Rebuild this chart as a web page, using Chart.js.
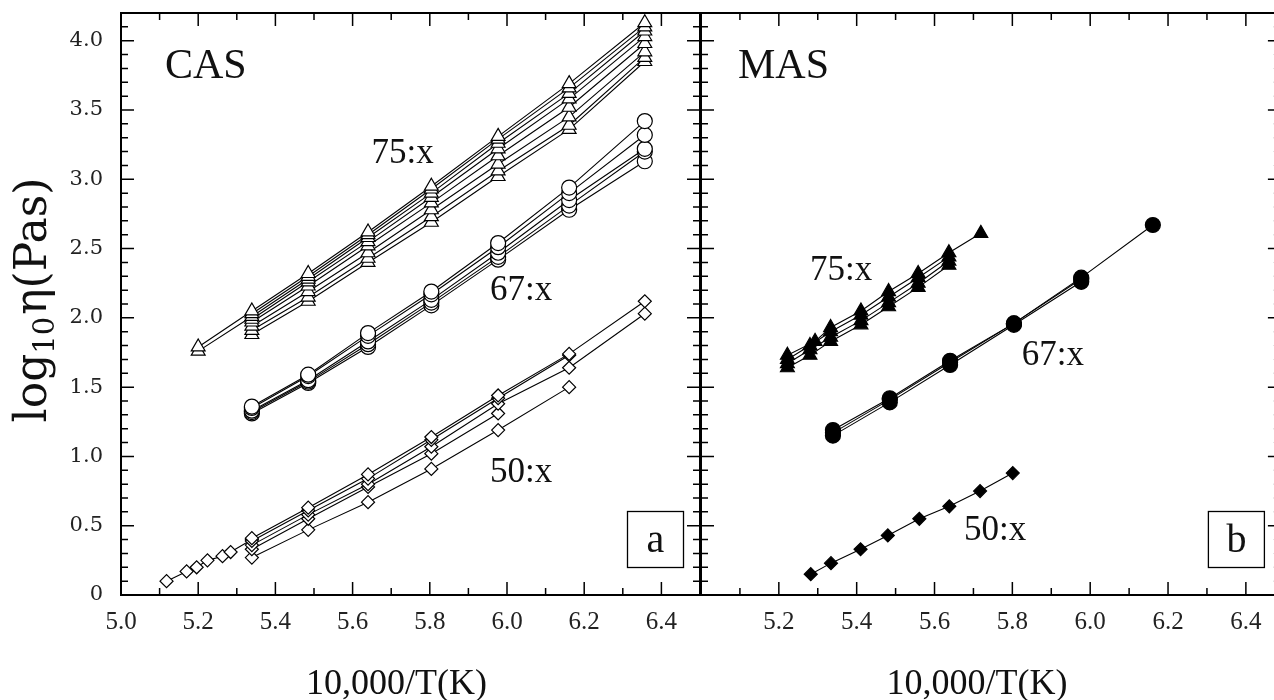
<!DOCTYPE html>
<html><head><meta charset="utf-8">
<script src="https://cdn.jsdelivr.net/npm/chart.js@4.4.1/dist/chart.umd.min.js"></script>
<style>
html,body{margin:0;padding:0;background:#fff;width:1274px;height:700px;overflow:hidden;position:relative}
canvas{position:absolute;top:0}
#c1{left:0}
#c2{left:600px}
</style></head><body>
<canvas id="c1" width="702" height="700"></canvas>
<canvas id="c2" width="700" height="700"></canvas>
<script>
// ---------- data (x = 10,000/T(K), y = log10 eta) ----------
const casX = [5.200, 5.339, 5.485, 5.640, 5.804, 5.977, 6.161, 6.357];
const cas75_1 = [1.79, 2.05, 2.32, 2.62, 2.95, 3.31, 3.69, 4.13];
const cas75_2 = [null, 2.03, 2.30, 2.60, 2.93, 3.29, 3.66, 4.10];
const cas75_3 = [1.76, 2.01, 2.28, 2.58, 2.90, 3.26, 3.62, 4.07];
const cas75_4 = [null, 1.99, 2.26, 2.55, 2.87, 3.22, 3.58, 4.03];
const cas75_5 = [null, 1.97, 2.23, 2.52, 2.83, 3.17, 3.52, 3.98];
const cas75_6 = [null, 1.94, 2.19, 2.47, 2.78, 3.11, 3.45, 3.92];
const cas75_7 = [null, 1.91, 2.15, 2.43, 2.73, 3.06, 3.39, 3.88];
const cas75_8 = [null, 1.88, 2.12, 2.40, 2.69, 3.02, 3.36, 3.85];

const cas67_1 = [null, 1.36, 1.59, 1.89, 2.19, 2.54, 2.94, 3.42];
const cas67_2 = [null, 1.35, 1.58, 1.87, 2.17, 2.51, 2.90, 3.32];
const cas67_3 = [null, 1.33, 1.55, 1.83, 2.13, 2.47, 2.85, 3.22];
const cas67_4 = [null, 1.32, 1.54, 1.81, 2.11, 2.44, 2.81, 3.20];
const cas67_5 = [null, 1.31, 1.53, 1.79, 2.09, 2.42, 2.78, 3.13];

const cas50_1 = [null, 0.41, 0.63, 0.87, 1.14, 1.44, 1.74, 2.12];
const cas50_2 = [null, 0.39, 0.61, 0.84, 1.12, 1.42, 1.73, null];
const cas50_3 = [null, 0.36, 0.58, 0.80, 1.07, 1.38, 1.64, 2.03];
const cas50_4 = [null, 0.33, 0.55, 0.78, 1.02, 1.31, null, null];
const cas50_5 = [null, 0.27, 0.47, 0.67, 0.91, 1.19, 1.50, null];
const cas50lowX = [5.118, 5.170, 5.196, 5.224, 5.263, 5.284, 5.339];
const cas50low  = [0.10, 0.17, 0.20, 0.25, 0.28, 0.31, 0.40];

const mas75X_a = [5.222, 5.293, 5.333, 5.411, 5.482, 5.558, 5.637, 5.719];
const mas75_1  = [1.73, 1.83, 1.93, 2.05, 2.19, 2.32, 2.47, 2.61];
const mas75X_b = [5.222, 5.280, 5.333, 5.411, 5.482, 5.558, 5.637];
const mas75_2  = [1.70, 1.80, 1.90, 2.02, 2.15, 2.29, 2.44];
const mas75_3  = [1.67, 1.77, 1.86, 1.98, 2.11, 2.25, 2.41];
const mas75_4  = [1.64, 1.73, 1.83, 1.95, 2.08, 2.22, 2.38];

const mas67X  = [5.339, 5.485, 5.640, 5.804, 5.977, 6.161];
const mas67_1 = [1.19, 1.42, 1.69, 1.96, 2.29, 2.67];
const mas67_2 = [1.17, 1.41, 1.68, 1.96, 2.28, null];
const mas67_3 = [1.15, 1.39, 1.66, 1.95, 2.26, null];

const mas50X  = [5.282, 5.334, 5.410, 5.480, 5.561, 5.638, 5.717, 5.801];
const mas50_1 = [0.15, 0.23, 0.33, 0.43, 0.55, 0.64, 0.75, 0.88];

const xTitle = '10,000/T(K)';
const yTitleParts = ['log', '10', '\u03B7(Pas)'];   // log10 eta (Pas), "10" as subscript

// ---------- helpers ----------
function series(xs, ys, style, filled, r){
  const data = xs.map((x,i)=>({x:x, y:ys[i]})).filter(p=>p.y!==null && p.y!==undefined);
  return {
    data: data, showLine: true, borderColor:'#000', borderWidth:1.1,
    pointStyle: style, pointRadius: r, pointHoverRadius: r,
    pointBackgroundColor: filled ? '#000' : '#fff',
    pointBorderColor:'#000', pointBorderWidth:1.2, tension:0
  };
}
const SERIF = "'Liberation Serif','Times New Roman',serif";
const SERIF2 = "'DejaVu Serif',serif";

function frameTicks(){
  return {
    id:'frameTicks',
    afterDatasetsDraw(chart){
      const ctx = chart.ctx, a = chart.chartArea, sx = chart.scales.x, sy = chart.scales.y;
      ctx.save();
      ctx.strokeStyle = '#000'; ctx.lineWidth = 1.5;
      ctx.beginPath();
      sx.ticks.forEach(t=>{
        const p = sx.getPixelForValue(t.value);
        if (p < a.left + 2 || p > a.right - 2) return;
        const L = (Math.round(t.value*10) % 2 === 0) ? 13 : 7;
        ctx.moveTo(p, a.bottom); ctx.lineTo(p, a.bottom - L);
        ctx.moveTo(p, a.top); ctx.lineTo(p, a.top + L);
      });
      sy.ticks.forEach(t=>{
        const p = sy.getPixelForValue(t.value);
        if (p < a.top + 2 || p > a.bottom - 2) return;
        const L = (Math.round(t.value*10) % 5 === 0) ? 13 : 7;
        ctx.moveTo(a.left, p); ctx.lineTo(a.left + L, p);
        ctx.moveTo(a.right, p); ctx.lineTo(a.right - L, p);
      });
      ctx.stroke();
      ctx.lineWidth = 2;
      ctx.strokeRect(a.left, a.top, a.right - a.left, a.bottom - a.top);
      ctx.restore();
    }
  };
}
function drawYTitle(ctx, cx, cy){
  const big = '44px ' + SERIF2, small = '29px ' + SERIF2;
  ctx.save();
  ctx.font = big;   const w1 = ctx.measureText(yTitleParts[0]).width;
  const w3 = ctx.measureText(yTitleParts[2]).width;
  ctx.font = small; const w2 = ctx.measureText(yTitleParts[1]).width;
  const total = w1 + w2 + 2 + w3;
  ctx.translate(cx, cy);
  ctx.rotate(-Math.PI/2);
  ctx.textAlign = 'left'; ctx.textBaseline = 'alphabetic';
  let x = -total/2;
  const base = 15;
  ctx.font = big;   ctx.fillText(yTitleParts[0], x, base); x += w1;
  ctx.font = small; ctx.fillText(yTitleParts[1], x, base + 8); x += w2 + 2;
  ctx.font = big;   ctx.fillText(yTitleParts[2], x, base);
  ctx.restore();
}
function labelsPlugin(texts, boxText, showYTitle){
  return {
    id:'panelLabels',
    afterDraw(chart){
      const ctx = chart.ctx, a = chart.chartArea, sx = chart.scales.x, sy = chart.scales.y;
      ctx.save();
      ctx.fillStyle = '#111'; ctx.textAlign = 'left'; ctx.textBaseline = 'alphabetic';
      texts.forEach(t=>{
        ctx.font = t.size + 'px ' + SERIF;
        ctx.fillText(t.text, sx.getPixelForValue(t.x), sy.getPixelForValue(t.y));
      });
      // panel letter box
      const bw = 56, bx = a.right - 16.5 - bw, by = a.bottom - 27.5 - bw;
      ctx.fillStyle = '#fff'; ctx.fillRect(bx, by, bw, bw);
      ctx.strokeStyle = '#000'; ctx.lineWidth = 1.3; ctx.strokeRect(bx, by, bw, bw);
      ctx.fillStyle = '#111'; ctx.font = '40px ' + SERIF; ctx.textAlign = 'center';
      ctx.fillText(boxText, bx + bw/2, by + bw/2 + 12);
      // x axis title
      ctx.font = '36px ' + SERIF; ctx.textAlign = 'center'; ctx.textBaseline = 'alphabetic';
      ctx.fillText(xTitle, (a.left + a.right)/2 - 14, 694);
      // y axis title
      if (showYTitle) drawYTitle(ctx, 31, 300);
      ctx.restore();
    }
  };
}
function xLabel(v){ const k = Math.round(v*10); return (k % 2 === 0) ? (k/10).toFixed(1) : ''; }
function yLabel(v){ const k = Math.round(v*10); if (k % 5) return ''; return k === 0 ? '0' : (k/10).toFixed(1); }

function makeOptions(xmax, showY, hideFirstX, padRight, yWidth){
  return {
    responsive:false, animation:false, events:[],
    layout:{ autoPadding:false, padding:{ left:0, right:padRight, top:13, bottom:0 } },
    plugins:{ legend:{display:false}, tooltip:{enabled:false} },
    scales:{
      x:{ type:'linear', min:5.0, max:xmax,
          grid:{display:false, drawTicks:false}, border:{display:false},
          ticks:{ stepSize:0.1, autoSkip:false, maxRotation:0, includeBounds:false, padding:12,
                  color:'#222', font:{family:SERIF, size:25},
                  callback:(v)=> (hideFirstX && v < 5.05) ? '' : xLabel(v) },
          title:{ display:false },
          afterFit:(s)=>{ s.height = 105; s.paddingLeft = 0; s.paddingRight = 0; } },
      y:{ type:'linear', min:0, max:4.2,
          grid:{display:false, drawTicks:false}, border:{display:false},
          ticks:{ display:showY, stepSize:0.1, autoSkip:false, includeBounds:false, padding:18,
                  color:'#222', font:{family:SERIF2, size:21}, callback:(v)=>yLabel(v) },
          title:{ display:false },
          afterFit:(s)=>{ s.width = yWidth; s.paddingTop = 0; s.paddingBottom = 0; } }
    }
  };
}

// ---------- CAS panel ----------
const casSets = [];
[cas75_1,cas75_2,cas75_3,cas75_4,cas75_5,cas75_6,cas75_7,cas75_8].forEach(s=>casSets.push(series(casX, s, 'triangle', false, 8)));
[cas67_1,cas67_2,cas67_3,cas67_4,cas67_5].forEach(s=>casSets.push(series(casX, s, 'circle', false, 7.5)));
[cas50_1,cas50_2,cas50_3,cas50_4,cas50_5].forEach(s=>casSets.push(series(casX, s, 'rectRot', false, 6.5)));
casSets.push(series(cas50lowX, cas50low, 'rectRot', false, 6.5));

new Chart(document.getElementById('c1'), {
  type:'scatter',
  data:{ datasets: casSets },
  options: makeOptions(6.5, true, false, 2, 121),
  plugins:[frameTicks(), labelsPlugin([
    {text:'CAS', x:5.114, y:3.729, size:42},
    {text:'75:x', x:5.649, y:3.115, size:35},
    {text:'67:x', x:5.956, y:2.129, size:35},
    {text:'50:x', x:5.956, y:0.818, size:35}
  ], 'a', true)]
});

// ---------- MAS panel ----------
const masSets = [];
masSets.push(series(mas75X_a, mas75_1, 'triangle', true, 8));
[mas75_2, mas75_3, mas75_4].forEach(s=>masSets.push(series(mas75X_b, s, 'triangle', true, 8)));
[mas67_1, mas67_2, mas67_3].forEach(s=>masSets.push(series(mas67X, s, 'circle', true, 7.5)));
masSets.push(series(mas50X, mas50_1, 'rectRot', true, 6.5));

new Chart(document.getElementById('c2'), {
  type:'scatter',
  data:{ datasets: masSets },
  options: makeOptions(6.49, false, true, 19.1, 101),
  plugins:[frameTicks(), labelsPlugin([
    {text:'MAS', x:5.095, y:3.729, size:42},
    {text:'75:x', x:5.280, y:2.273, size:35},
    {text:'67:x', x:5.824, y:1.660, size:35},
    {text:'50:x', x:5.676, y:0.397, size:35}
  ], 'b', false)]
});
</script>
</body></html>
